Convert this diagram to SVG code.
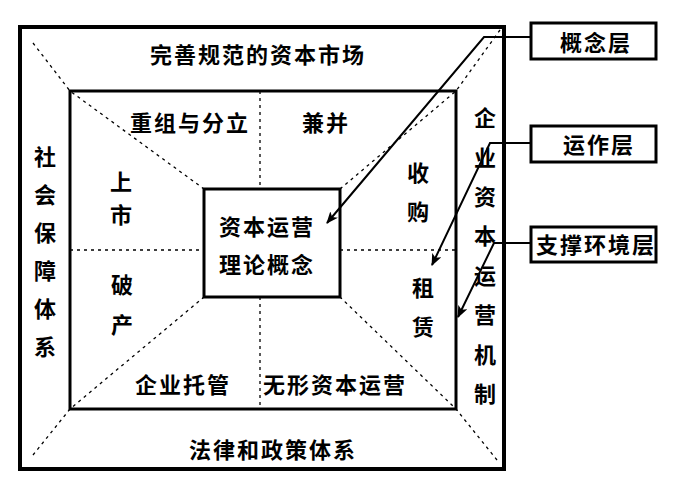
<svg xmlns="http://www.w3.org/2000/svg" width="699" height="480" viewBox="0 0 699 480">
<defs>
<style>
.t{font-family:"Noto Sans CJK SC","Noto Sans CJK JP",sans-serif;font-size:22px;font-weight:700;fill:#000;letter-spacing:2px}
.v{font-family:"Noto Sans CJK SC","Noto Sans CJK JP",sans-serif;font-size:22px;font-weight:700;fill:#000;text-anchor:middle}
.box{fill:none;stroke:#000}
.dot{fill:none;stroke:#000;stroke-width:1.3;stroke-dasharray:3 4}
.con{fill:none;stroke:#000;stroke-width:2}
</style>
<marker id="arr" viewBox="0 0 12 10" refX="11" refY="5" markerWidth="12" markerHeight="10" markerUnits="userSpaceOnUse" orient="auto">
<path d="M0,0 L12,5 L0,10 L3,5 Z" fill="#000"/>
</marker>
</defs>
<rect width="699" height="480" fill="#fff"/>

<g id="frame">
<rect class="box" x="20" y="27" width="484" height="442" stroke-width="4"/>
<rect class="box" x="70" y="91" width="386" height="318" stroke-width="3"/>
</g>

<g id="guides">
<path class="dot" d="M33,43 L70,91 L204,189"/>
<path class="dot" d="M500,30 L456,91 L340,189"/>
<path class="dot" d="M33,455 L70,409 L204,297"/>
<path class="dot" d="M497,460 L456,409 L340,297"/>
<path class="dot" d="M70,250 L204,250 M340,250 L456,250"/>
<path class="dot" d="M260,91 L260,189 M260,297 L260,409"/>
</g>

<g id="center">
<rect class="box" x="204" y="189" width="136" height="108" stroke-width="3"/>
<text class="t" x="219" y="235">资本运营</text>
<text class="t" x="219" y="273">理论概念</text>
</g>

<g id="market"><text class="t" x="150" y="63">完善规范的资本市场</text></g>
<g id="law"><text class="t" x="189" y="458">法律和政策体系</text></g>
<g id="social">
<text class="v" x="45" y="165">社</text>
<text class="v" x="45" y="203">会</text>
<text class="v" x="45" y="241">保</text>
<text class="v" x="45" y="279">障</text>
<text class="v" x="45" y="317">体</text>
<text class="v" x="45" y="355">系</text>
</g>
<g id="mechanism">
<text class="v" x="485" y="126">企</text>
<text class="v" x="485" y="166">业</text>
<text class="v" x="485" y="205">资</text>
<text class="v" x="485" y="244">本</text>
<text class="v" x="485" y="284">运</text>
<text class="v" x="485" y="323">营</text>
<text class="v" x="485" y="363">机</text>
<text class="v" x="485" y="402">制</text>
</g>

<g id="restructure"><text class="t" x="130" y="131">重组与分立</text></g>
<g id="merger"><text class="t" x="302" y="131">兼并</text></g>
<g id="ipo"><text class="v" x="121" y="190">上</text><text class="v" x="121" y="223">市</text></g>
<g id="acquire"><text class="v" x="418" y="181">收</text><text class="v" x="418" y="220">购</text></g>
<g id="bankrupt"><text class="v" x="122" y="293">破</text><text class="v" x="122" y="333">产</text></g>
<g id="lease"><text class="v" x="423" y="296">租</text><text class="v" x="423" y="335">赁</text></g>
<g id="trust"><text class="t" x="135" y="393">企业托管</text></g>
<g id="intangible"><text class="t" x="263" y="393">无形资本运营</text></g>

<g id="concept">
<rect class="box" x="531" y="23" width="125" height="36" stroke-width="3"/>
<text class="t" x="560" y="51">概念层</text>
</g>
<g id="operate">
<rect class="box" x="531" y="126" width="125" height="36" stroke-width="3"/>
<text class="t" x="563" y="153">运作层</text>
</g>
<g id="support">
<rect class="box" x="531" y="227" width="125" height="35" stroke-width="3"/>
<text class="t" x="536" y="253">支撑环境层</text>
</g>

<g id="connectors">
<path class="con" d="M531,37 L484,37 L327,223" marker-end="url(#arr)"/>
<path class="con" d="M531,143 L490,143 L432,265" marker-end="url(#arr)"/>
<path class="con" d="M531,243 L494,243 L458,317" marker-end="url(#arr)"/>
</g>
</svg>
